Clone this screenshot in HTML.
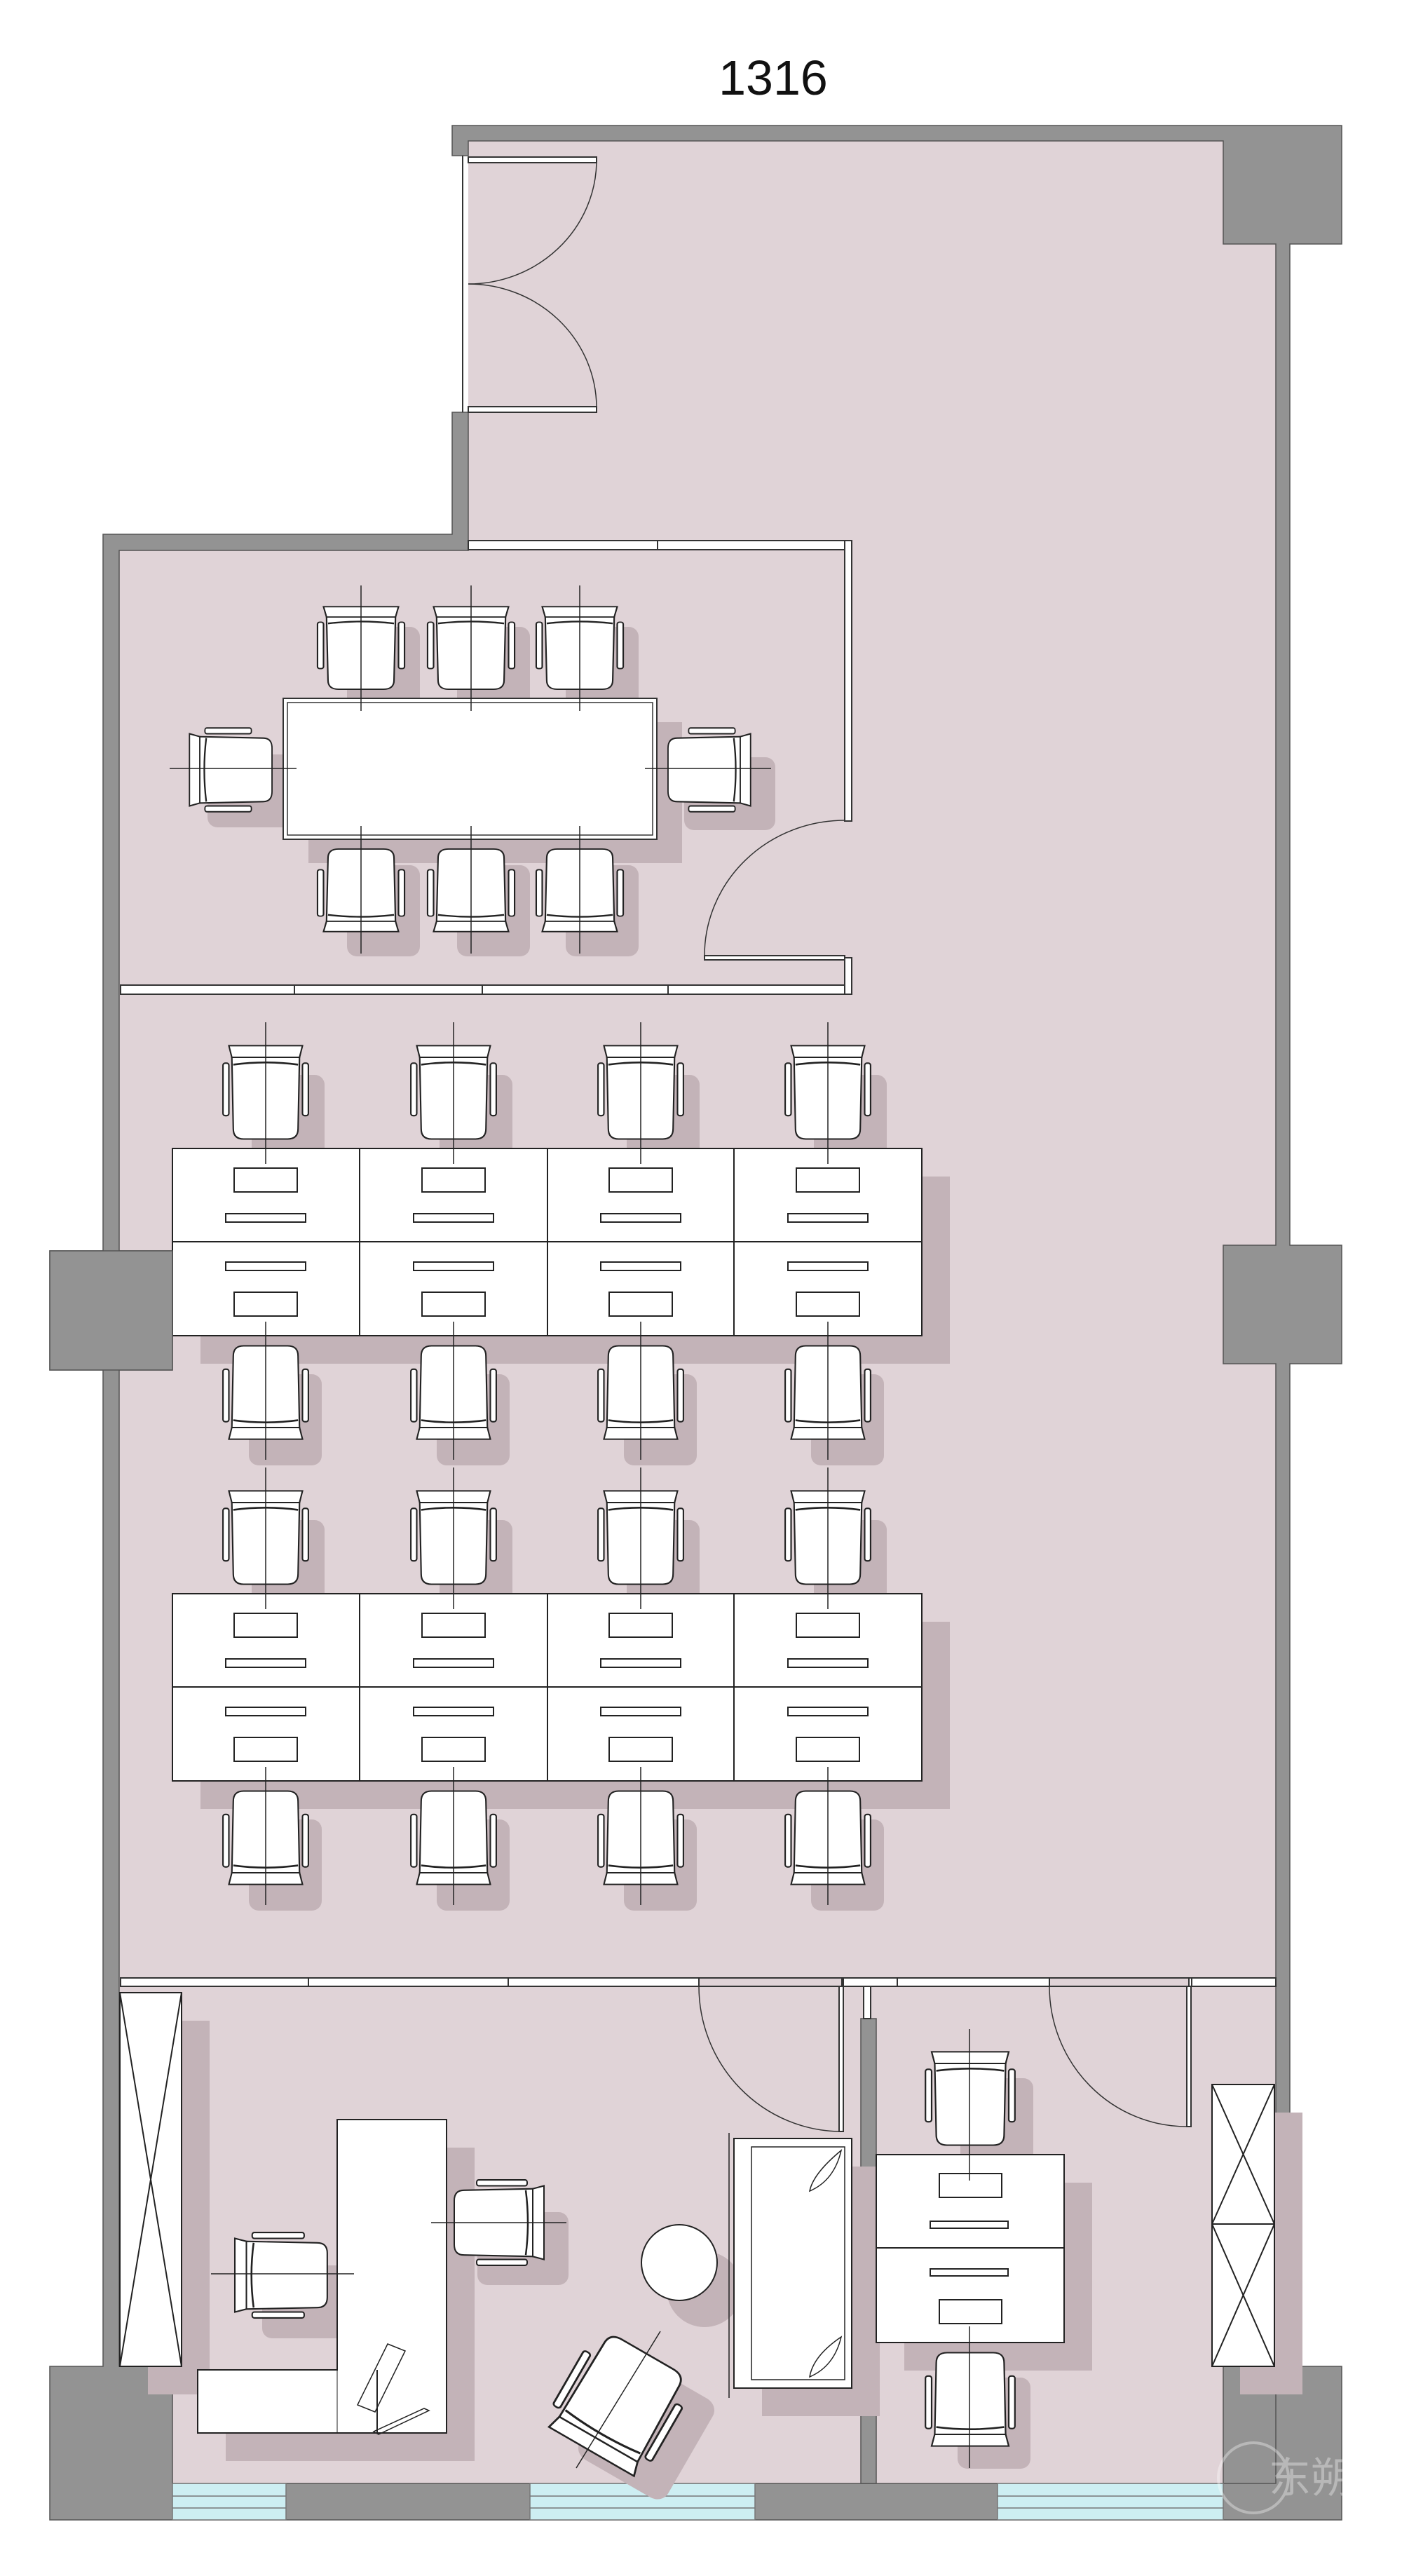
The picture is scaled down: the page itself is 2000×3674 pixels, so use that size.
<!DOCTYPE html>
<html><head><meta charset="utf-8"><style>html,body{margin:0;padding:0;background:#fff}svg{display:block}</style></head>
<body>
<svg width="2000" height="3674" viewBox="0 0 2000 3674" xmlns="http://www.w3.org/2000/svg" font-family="Liberation Sans, sans-serif">
<defs>
<g id="ch" stroke="#222" stroke-width="2">
  <path d="M-46,-52 L-44,48 Q-44,62 -30,62 L30,62 Q44,62 44,48 L46,-52 Z" fill="#fff"/>
  <path d="M-50,-66 L50,-66 L46,-50 L-46,-50 Z" fill="#fff"/>
  <path d="M-44,-40 Q0,-46 44,-40" fill="none" stroke-width="2.5"/>
  <rect x="-58" y="-42" width="8" height="72" rx="3" fill="#fff"/>
  <rect x="50" y="-42" width="8" height="72" rx="3" fill="#fff"/>
</g>
<rect id="chs" x="-50" y="-66" width="104" height="130" rx="14" fill="#c3b3b8"/>
<g id="cell" stroke="#222" stroke-width="2" fill="#fff">
  <rect x="-45" y="28" width="90" height="34"/>
  <rect x="-57" y="93" width="114" height="12"/>
</g>
</defs>

<text x="1103" y="135" font-size="70" text-anchor="middle" fill="#111">1316</text>

<path d="M668,201 L1745,201 L1745,348 L1820,348 L1820,3542 L170,3542 L170,785 L668,785 Z" fill="#e0d3d7"/>

<g fill="#939393" stroke="#555" stroke-width="1.5">
  <path d="M645,179 L1914,179 L1914,348 L1840,348 L1840,1776 L1914,1776 L1914,1945 L1840,1945 L1840,3375 L1914,3375 L1914,3594 L71,3594 L71,3375 L147,3375 L147,1954 L71,1954 L71,1784 L147,1784 L147,762 L645,762 L645,588 L668,588 L668,785 L170,785 L170,1784 L246,1784 L246,1954 L170,1954 L170,3375 L246,3375 L246,3542 L1820,3542 L1820,3375 L1745,3375 L1745,3542 L1820,3542 L1820,1945 L1745,1945 L1745,1776 L1820,1776 L1820,348 L1745,348 L1745,201 L668,201 L668,222 L645,222 Z"/>
  <rect x="1228" y="2879" width="22" height="663"/>
</g>
<g fill="#cdeef2" stroke="#777" stroke-width="1.5">
  <rect x="246" y="3542" width="162" height="52"/>
  <rect x="756" y="3542" width="321" height="52"/>
  <rect x="1423" y="3542" width="322" height="52"/>
</g>
<g stroke="#777" stroke-width="1.5">
  <line x1="246" y1="3560" x2="408" y2="3560"/><line x1="246" y1="3577" x2="408" y2="3577"/>
  <line x1="756" y1="3560" x2="1077" y2="3560"/><line x1="756" y1="3577" x2="1077" y2="3577"/>
  <line x1="1423" y1="3560" x2="1745" y2="3560"/><line x1="1423" y1="3577" x2="1745" y2="3577"/>
</g>

<g stroke="#333" stroke-width="2" fill="none">
  <line x1="660" y1="222" x2="660" y2="588"/>
  <rect x="668" y="224" width="183" height="8" fill="#fff"/>
  <rect x="668" y="580" width="183" height="8" fill="#fff"/>
  <path d="M851,232 A183,177 0 0 1 668,405" stroke-width="1.5"/>
  <path d="M851,580 A183,177 0 0 0 668,405" stroke-width="1.5"/>
</g>

<g stroke="#333" stroke-width="2" fill="#fff">
  <rect x="668" y="771" width="547" height="13"/>
  <rect x="172" y="1405" width="1043" height="13"/>
  <rect x="1205" y="771" width="10" height="400"/>
  <rect x="1205" y="1366" width="10" height="52"/>
  <line x1="938" y1="771" x2="938" y2="784"/>
  <line x1="420" y1="1405" x2="420" y2="1418"/><line x1="688" y1="1405" x2="688" y2="1418"/><line x1="953" y1="1405" x2="953" y2="1418"/>
  <rect x="1005" y="1363" width="200" height="6"/>
  <path d="M1005,1363 A200,193 0 0 1 1205,1170" fill="none" stroke-width="1.5"/>
</g>

<g fill="#c3b3b8">
  <rect x="440" y="1030" width="533" height="201"/>
  <use href="#chs" transform="translate(545,960)"/><use href="#chs" transform="translate(702,960)"/><use href="#chs" transform="translate(857,960)"/>
  <use href="#chs" transform="translate(545,1300)"/><use href="#chs" transform="translate(702,1300)"/><use href="#chs" transform="translate(857,1300)"/>
  <use href="#chs" transform="translate(362,1130) rotate(-90)"/><use href="#chs" transform="translate(1040,1130) rotate(90)"/>
</g>
<rect x="404" y="996" width="533" height="201" fill="#fff" stroke="#333" stroke-width="2"/>
<rect x="410" y="1002" width="521" height="189" fill="none" stroke="#333" stroke-width="1.5"/>
<use href="#ch" transform="translate(515,926) scale(1.07,0.92)"/>
<use href="#ch" transform="translate(672,926) scale(1.07,0.92)"/>
<use href="#ch" transform="translate(827,926) scale(1.07,0.92)"/>
<use href="#ch" transform="translate(515,1268) rotate(180) scale(1.07,0.92)"/>
<use href="#ch" transform="translate(672,1268) rotate(180) scale(1.07,0.92)"/>
<use href="#ch" transform="translate(827,1268) rotate(180) scale(1.07,0.92)"/>
<use href="#ch" transform="translate(331,1098) rotate(-90) scale(1.03,0.92)"/>
<use href="#ch" transform="translate(1010,1098) rotate(90) scale(1.03,0.92)"/>
<g stroke="#222" stroke-width="1.5">
  <line x1="515" y1="835" x2="515" y2="1014"/><line x1="672" y1="835" x2="672" y2="1014"/><line x1="827" y1="835" x2="827" y2="1014"/>
  <line x1="515" y1="1178" x2="515" y2="1360"/><line x1="672" y1="1178" x2="672" y2="1360"/><line x1="827" y1="1178" x2="827" y2="1360"/>
  <line x1="242" y1="1096" x2="423" y2="1096"/><line x1="920" y1="1096" x2="1100" y2="1096"/>
</g>

<g id="grp1">
  <g fill="#c3b3b8">
    <rect x="286" y="1678" width="1069" height="267"/>
    <use href="#chs" transform="translate(409,1599)"/><use href="#chs" transform="translate(677,1599)"/><use href="#chs" transform="translate(944,1599)"/><use href="#chs" transform="translate(1211,1599)"/>
    <use href="#chs" transform="translate(409,2024) rotate(180)"/><use href="#chs" transform="translate(677,2024) rotate(180)"/><use href="#chs" transform="translate(944,2024) rotate(180)"/><use href="#chs" transform="translate(1211,2024) rotate(180)"/>
  </g>
  <rect x="246" y="1638" width="1069" height="267" fill="#fff" stroke="#222" stroke-width="2"/>
  <g stroke="#222" stroke-width="2"><line x1="246" y1="1771" x2="1315" y2="1771"/><line x1="513" y1="1638" x2="513" y2="1905"/><line x1="781" y1="1638" x2="781" y2="1905"/><line x1="1047" y1="1638" x2="1047" y2="1905"/></g>
  <use href="#cell" transform="translate(379,1638)"/><use href="#cell" transform="translate(647,1638)"/><use href="#cell" transform="translate(914,1638)"/><use href="#cell" transform="translate(1181,1638)"/>
  <use href="#cell" transform="translate(379,1905) scale(1,-1)"/><use href="#cell" transform="translate(647,1905) scale(1,-1)"/><use href="#cell" transform="translate(914,1905) scale(1,-1)"/><use href="#cell" transform="translate(1181,1905) scale(1,-1)"/>
  <use href="#ch" transform="translate(379,1560) scale(1.05,1.04)"/><use href="#ch" transform="translate(647,1560) scale(1.05,1.04)"/><use href="#ch" transform="translate(914,1560) scale(1.05,1.04)"/><use href="#ch" transform="translate(1181,1560) scale(1.05,1.04)"/>
  <use href="#ch" transform="translate(379,1984) rotate(180) scale(1.05,1.04)"/><use href="#ch" transform="translate(647,1984) rotate(180) scale(1.05,1.04)"/><use href="#ch" transform="translate(914,1984) rotate(180) scale(1.05,1.04)"/><use href="#ch" transform="translate(1181,1984) rotate(180) scale(1.05,1.04)"/>
  <g stroke="#222" stroke-width="1.5">
    <line x1="379" y1="1458" x2="379" y2="1660"/><line x1="647" y1="1458" x2="647" y2="1660"/><line x1="914" y1="1458" x2="914" y2="1660"/><line x1="1181" y1="1458" x2="1181" y2="1660"/>
    <line x1="379" y1="1885" x2="379" y2="2082"/><line x1="647" y1="1885" x2="647" y2="2082"/><line x1="914" y1="1885" x2="914" y2="2082"/><line x1="1181" y1="1885" x2="1181" y2="2082"/>
  </g>
</g>
<use href="#grp1" transform="translate(0,635)"/>

<rect x="71" y="1784" width="175" height="170" fill="#939393" stroke="#555" stroke-width="1.5"/>

<g stroke="#333" stroke-width="2" fill="#fff">
  <rect x="172" y="2821" width="1648" height="12"/>
  <line x1="440" y1="2821" x2="440" y2="2833"/><line x1="725" y1="2821" x2="725" y2="2833"/><line x1="997" y1="2821" x2="997" y2="2833"/><line x1="1203" y1="2821" x2="1203" y2="2833"/><line x1="1280" y1="2821" x2="1280" y2="2833"/><line x1="1497" y1="2821" x2="1497" y2="2833"/><line x1="1700" y1="2821" x2="1700" y2="2833"/>
  <rect x="1232" y="2833" width="10" height="46"/>
  <rect x="997" y="2821" width="204" height="12" fill="#e0d3d7"/>
  <rect x="1497" y="2821" width="199" height="12" fill="#e0d3d7"/>
  <rect x="1197" y="2833" width="6" height="207"/>
  <rect x="1693" y="2833" width="6" height="200"/>
  <path d="M997,2833 A204,207 0 0 0 1197,3040" fill="none" stroke-width="1.5"/>
  <path d="M1497,2833 A196,200 0 0 0 1693,3033" fill="none" stroke-width="1.5"/>
</g>

<g fill="#c3b3b8">
  <rect x="211" y="2882" width="88" height="533"/>
  <rect x="1769" y="3013" width="89" height="402"/>
  <path d="M521,3063 L677,3063 L677,3510 L322,3510 L322,3420 L521,3420 Z"/>
  <rect x="1087" y="3090" width="168" height="356"/>
  <rect x="1290" y="3113" width="268" height="268"/>
  <circle cx="1005" cy="3265" r="54"/>
  <use href="#chs" transform="translate(1420,3030)"/>
  <use href="#chs" transform="translate(1420,3455) rotate(180)"/>
  <use href="#chs" transform="translate(440,3285) rotate(-90)"/>
  <use href="#chs" transform="translate(745,3205) rotate(90)"/>
  <use href="#chs" transform="translate(925,3465) rotate(-150) scale(1.4,1.25)"/>
</g>

<g stroke="#222" stroke-width="2" fill="#fff">
  <rect x="171" y="2842" width="88" height="533"/>
  <path d="M171,2842 L259,3375 M259,2842 L171,3375" fill="none"/>
  <rect x="1729" y="2973" width="89" height="402"/>
  <line x1="1729" y1="3172" x2="1818" y2="3172"/>
  <path d="M1729,2973 L1818,3172 M1818,2973 L1729,3172 M1729,3172 L1818,3375 M1818,3172 L1729,3375" fill="none"/>
</g>

<g stroke="#222" stroke-width="2" fill="#fff">
  <path d="M481,3023 L637,3023 L637,3470 L282,3470 L282,3380 L481,3380 Z"/>
  <line x1="538" y1="3380" x2="538" y2="3470"/>
  <line x1="481" y1="3380" x2="481" y2="3470" stroke-width="1"/>
  <path d="M553,3343 L578,3353 L535,3440 L510,3430 Z" fill="none" stroke-width="1.5"/>
  <path d="M605,3435 L612,3438 L540,3472 L533,3468 Z" fill="none" stroke-width="1.5"/>
</g>
<use href="#ch" transform="translate(403,3245) rotate(-90) scale(1.05,1.03)"/>
<use href="#ch" transform="translate(710,3170) rotate(90) scale(1.05,1.0)"/>
<use href="#ch" transform="translate(885,3425) rotate(-150) scale(1.4,1.25)"/>
<g stroke="#222" stroke-width="1.5">
  <line x1="301" y1="3243" x2="505" y2="3243"/>
  <line x1="615" y1="3170" x2="808" y2="3170"/>
  <line x1="942" y1="3325" x2="822" y2="3520"/>
</g>
<circle cx="969" cy="3227" r="54" fill="#fff" stroke="#222" stroke-width="2"/>
<g stroke="#222" stroke-width="2" fill="#fff">
  <rect x="1047" y="3050" width="168" height="356"/>
  <rect x="1072" y="3062" width="133" height="332" fill="none" stroke-width="1.5"/>
  <path d="M1200,3067 Q1160,3100 1155,3125 Q1190,3110 1200,3067 Z" fill="none" stroke-width="1.5"/>
  <path d="M1200,3333 Q1160,3360 1155,3390 Q1190,3375 1200,3333 Z" fill="none" stroke-width="1.5"/>
  <line x1="1040" y1="3042" x2="1040" y2="3420" stroke-width="1.5"/>
</g>

<rect x="1250" y="3073" width="268" height="268" fill="#fff" stroke="#222" stroke-width="2"/>
<line x1="1250" y1="3206" x2="1518" y2="3206" stroke="#222" stroke-width="2"/>
<g stroke="#222" stroke-width="2" fill="#fff">
  <rect x="1340" y="3100" width="89" height="34"/>
  <rect x="1327" y="3168" width="111" height="10"/>
  <rect x="1327" y="3236" width="111" height="10"/>
  <rect x="1340" y="3280" width="89" height="34"/>
</g>
<use href="#ch" transform="translate(1384,2995) scale(1.1,1.04)"/>
<use href="#ch" transform="translate(1384,3420) rotate(180) scale(1.1,1.04)"/>
<line x1="1383" y1="2894" x2="1383" y2="3110" stroke="#222" stroke-width="1.5"/>
<line x1="1383" y1="3318" x2="1383" y2="3520" stroke="#222" stroke-width="1.5"/>

<g opacity="0.35" fill="none" stroke="#fff" stroke-width="4">
  <circle cx="1788" cy="3534" r="50"/>
  <text x="1810" y="3555" font-size="60" fill="#fff" stroke="none" font-family="Liberation Sans, Noto Sans CJK SC, sans-serif">东朔</text>
</g>
</svg>
</body></html>
